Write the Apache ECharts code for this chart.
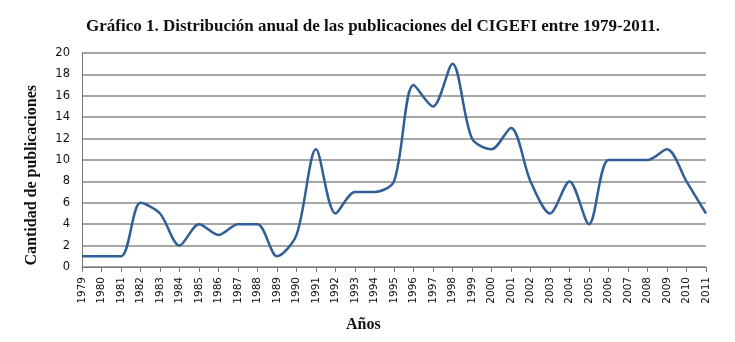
<!DOCTYPE html>
<html><head><meta charset="utf-8">
<script src="https://cdn.jsdelivr.net/npm/echarts@6/dist/echarts.min.js"></script>
<style>html,body{margin:0;padding:0;background:#fff}#c{width:735px;height:342px}</style>
</head><body><div id="c"></div>
<script>
const years = ['1979','1980','1981','1982','1983','1984','1985','1986','1987','1988','1989','1990','1991','1992','1993','1994','1995','1996','1997','1998','1999','2000','2001','2002','2003','2004','2005','2006','2007','2008','2009','2010','2011'];
const publicaciones = [1,1,1,6,5,2,4,3,4,4,1,3,11,5,7,7,8,17,15,19,12,11,13,8,5,8,4,10,10,10,11,8,5];
const titleText = 'Gráfico 1. Distribución anual de las publicaciones del CIGEFI entre 1979-2011.';
const yName = 'Cantidad de publicaciones';
const xName = 'Años';

const chart = echarts.init(document.getElementById('c'), null, {renderer:'canvas'});
chart.setOption({
  animation:false,
  backgroundColor:'#fff',
  title:{text:titleText,left:368,top:13,textAlign:'center',
    textStyle:{fontFamily:'Liberation Serif',fontWeight:'bold',fontSize:17,color:'#111'}},
  grid:{left:82,right:29,top:53,bottom:75},
  graphic:[
    {type:'text',left:24,top:85,rotation:Math.PI/2,
      style:{text:yName,font:'bold 16px "Liberation Serif"',fill:'#111',x:0,y:0}},
    {type:'text',left:346,top:317,
      style:{text:xName,font:'bold 16px "Liberation Serif"',fill:'#111'}}
  ],
  xAxis:{type:'category',data:years,boundaryGap:false,
    axisLine:{lineStyle:{color:'#777',width:1}},
    axisTick:{show:true,length:5,alignWithLabel:true,lineStyle:{color:'#777'}},
    axisLabel:{rotate:90,interval:0,fontFamily:'DejaVu Sans',fontSize:10.5,color:'#111',margin:10}},
  yAxis:{type:'value',min:0,max:20,interval:2,
    axisLine:{show:true,lineStyle:{color:'#777',width:1}},
    axisTick:{show:false},
    axisLabel:{fontFamily:'DejaVu Sans',fontSize:11.5,color:'#111',margin:12},
    splitLine:{lineStyle:{color:'#8a8a8a',width:1.5}}},
  series:[{type:'line',data:publicaciones,smooth:0.3,symbol:'none',
    lineStyle:{color:'#2f5f95',width:2.5}}]
});
</script></body></html>
